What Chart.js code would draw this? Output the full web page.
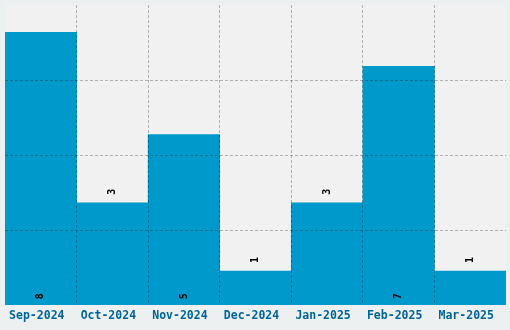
<!DOCTYPE html>
<html>
<head>
<meta charset="utf-8">
<script src="https://cdn.jsdelivr.net/npm/chart.js@4"></script>
<style>
  html, body { margin: 0; padding: 0; background: #edf0f0; }
  #wrap { width: 510px; height: 330px; }
</style>
</head>
<body>
<div id="wrap"><canvas id="grafico"></canvas></div>
<script>
// dados do gráfico
var meses = ['Sep-2024', 'Oct-2024', 'Nov-2024', 'Dec-2024', 'Jan-2025', 'Feb-2025', 'Mar-2025'];
var valores = [8, 3, 5, 1, 3, 7, 1];
var yMax = 8.8;
var yPasso = 2.2;

// fundo da área do gráfico
var fundoArea = {
    id: 'fundoArea',
    beforeDraw: function (chart) {
        var a = chart.chartArea;
        var c = chart.ctx;
        c.save();
        c.fillStyle = '#f1f1f1';
        c.fillRect(a.left, a.top, a.right - a.left, a.bottom - a.top);
        c.restore();
    }
};

// rótulos de valor girados
var rotulos = {
    id: 'rotulos',
    afterDraw: function (chart) {
        var c = chart.ctx;
        var meta = chart.getDatasetMeta(0);
        var base = chart.chartArea.bottom;
        c.save();
        c.font = 'bold 10px "DejaVu Sans Mono", monospace';
        c.fillStyle = '#000';
        c.textAlign = 'center';
        c.textBaseline = 'middle';
        meta.data.forEach(function (bar, i) {
            var y = valores[i] >= 5 ? base - 9 : bar.y - 11;
            c.save();
            c.translate(bar.x, y);
            c.rotate(-Math.PI / 2);
            c.fillText(String(valores[i]), 0, 0);
            c.restore();
        });
        c.restore();
    }
};

var corGrade = 'rgba(0, 0, 0, 0.27)';

new Chart(document.getElementById('grafico'), {
    type: 'bar',
    data: {
        labels: meses,
        datasets: [{
            data: valores,
            backgroundColor: '#0099cc',
            borderWidth: 0,
            barPercentage: 1,
            categoryPercentage: 1
        }]
    },
    options: {
        responsive: true,
        maintainAspectRatio: false,
        animation: false,
        layout: { padding: { left: 5, right: 4, top: 5, bottom: 3 } },
        plugins: {
            legend: { display: false },
            tooltip: { enabled: false }
        },
        scales: {
            x: {
                z: 1,
                border: { display: false, dash: [3, 2] },
                grid: {
                    z: 1,
                    color: function (ctx) {
                        return (ctx.type !== 'tick' || ctx.index === 0) ? 'transparent' : corGrade;
                    },
                    drawTicks: false
                },
                ticks: {
                    color: '#00649a',
                    padding: 4,
                    labelOffset: -4,
                    maxRotation: 0,
                    font: { family: '"DejaVu Sans Mono", monospace', size: 11.5, weight: 'bold' }
                }
            },
            y: {
                z: 1,
                min: 0,
                max: yMax,
                border: { display: false, dash: [3, 2] },
                grid: {
                    z: 1,
                    color: function (ctx) {
                        var v = ctx.tick ? ctx.tick.value : 0;
                        return (v < 0.1 || v > yMax - 0.1) ? 'transparent' : corGrade;
                    },
                    drawTicks: false
                },
                ticks: { display: false, stepSize: yPasso },
                afterFit: function (s) { s.width = 0; }
            }
        }
    },
    plugins: [fundoArea, rotulos]
});
</script>
</body>
</html>
